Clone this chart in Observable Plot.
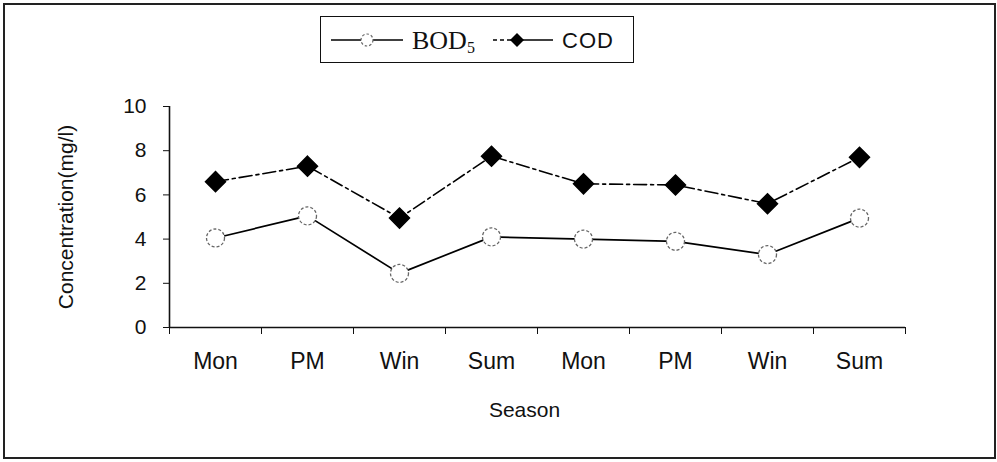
<!DOCTYPE html>
<html>
<head>
<meta charset="utf-8">
<script src="https://cdn.jsdelivr.net/npm/d3@7"></script>
<script src="https://cdn.jsdelivr.net/npm/@observablehq/plot@0.6"></script>
<style>
  html, body { margin: 0; padding: 0; background: #fff; }
  #wrap { position: relative; width: 997px; height: 462px; overflow: hidden; background: #fff; }
  #frame { position: absolute; left: 3px; top: 3px; width: 989px; height: 452px; border: 2px solid #222; box-sizing: content-box; pointer-events: none; }
  #legend { position: absolute; left: 320px; top: 16px; width: 314px; height: 47px; border: 1.5px solid #111; background: #fff; box-sizing: border-box; }
  #chart { position: absolute; left: 0; top: 0; }
</style>
</head>
<body>
<div id="wrap">
  <div id="chart"></div>
  <div id="frame"></div>
  <div id="legend"></div>
</div>
<script>
const seasons = ["Mon", "PM", "Win", "Sum", "Mon", "PM", "Win", "Sum"];
const bod = [4.05, 5.05, 2.45, 4.1, 4.0, 3.9, 3.3, 4.95];
const cod = [6.6, 7.3, 4.95, 7.75, 6.5, 6.45, 5.6, 7.7];
const yTicks = [0, 2, 4, 6, 8, 10];
const seriesNames = ["BOD", "COD"];
const yLabel = "Concentration(mg/l)";
const xLabel = "Season";

const rows = seasons.map((s, i) => ({ pos: i + 0.5, season: s, bod: bod[i], cod: cod[i] }));
const boundaries = d3.range(seasons.length + 1);
const centers = rows.map(d => d.pos);
const font = "'Liberation Sans', Arial, Helvetica, sans-serif";

const plot = Plot.plot({
  width: 997,
  height: 462,
  marginLeft: 169,
  marginRight: 92,
  marginTop: 106,
  marginBottom: 135,
  style: { fontFamily: font, fontSize: "21px", color: "#111", background: "transparent" },
  x: { domain: [0, seasons.length] },
  y: { domain: [0, 10] },
  marks: [
    Plot.axisY({ ticks: yTicks, tickSize: 6, tickPadding: 17, label: null, fontSize: 21, stroke: "#111" }),
    Plot.axisX({ ticks: boundaries, tickSize: 7, tickFormat: () => "", label: null, stroke: "#111" }),
    Plot.axisX({ ticks: centers, tickSize: 0, tickPadding: 25, tickFormat: d => seasons[Math.floor(d)], label: null, fontSize: 23, style: { letterSpacing: "1.5px" } }),
    Plot.ruleX([0], { stroke: "#111", strokeWidth: 1.6 }),
    Plot.ruleY([0], { stroke: "#111", strokeWidth: 1.6 }),
    Plot.line(rows, { x: "pos", y: "cod", stroke: "#000", strokeWidth: 1.6, strokeDasharray: "13,4,3,4" }),
    Plot.line(rows, { x: "pos", y: "bod", stroke: "#000", strokeWidth: 1.7 }),
    Plot.dot(rows, { x: "pos", y: "cod", symbol: "diamond2", r: 9, fill: "#000", stroke: "#000" }),
    Plot.dot(rows, { x: "pos", y: "bod", symbol: "circle", r: 9, fill: "#fff", stroke: "#666", strokeWidth: 1.3, strokeDasharray: "3,2" }),
    Plot.text([yLabel], { frameAnchor: "left", rotate: -90, dx: -103, fontSize: 21, fill: "#111", textAnchor: "middle", lineAnchor: "middle" }),
    Plot.text([xLabel], { frameAnchor: "bottom", dy: 83, dx: -13, fontSize: 21, fill: "#111", textAnchor: "middle", lineAnchor: "middle", style: "letter-spacing:1.5px" })
  ]
});
document.getElementById("chart").appendChild(plot);

// Legend (HTML/SVG, outside the Plot SVG)
const lg = d3.select("#legend").append("svg").attr("width", 312).attr("height", 45);
const cy = 23;
// BOD5
lg.append("line").attr("x1", 10).attr("x2", 82).attr("y1", cy).attr("y2", cy).attr("stroke", "#000").attr("stroke-width", 1.6);
lg.append("circle").attr("cx", 46).attr("cy", cy).attr("r", 6).attr("fill", "#fff").attr("stroke", "#666").attr("stroke-width", 1.2).attr("stroke-dasharray", "2.5,2");
const t1 = lg.append("text").attr("x", 91).attr("y", cy + 9).attr("font-family", "'Liberation Serif', 'Times New Roman', serif").attr("font-size", 26).attr("fill", "#111");
t1.append("tspan").text(seriesNames[0]);
t1.append("tspan").attr("font-size", 16).attr("dy", 4).text("5");
// COD
lg.append("line").attr("x1", 172).attr("x2", 196).attr("y1", cy).attr("y2", cy).attr("stroke", "#000").attr("stroke-width", 1.4).attr("stroke-dasharray", "4,3");
lg.append("line").attr("x1", 196).attr("x2", 232).attr("y1", cy).attr("y2", cy).attr("stroke", "#000").attr("stroke-width", 1.6);
lg.append("path").attr("d", `M196,${cy - 7}L203,${cy}L196,${cy + 7}L189,${cy}Z`).attr("fill", "#000");
lg.append("text").attr("x", 241).attr("y", cy + 8).attr("font-family", font).attr("font-size", 22).attr("letter-spacing", "1px").attr("fill", "#111").text(seriesNames[1]);
</script>
</body>
</html>
